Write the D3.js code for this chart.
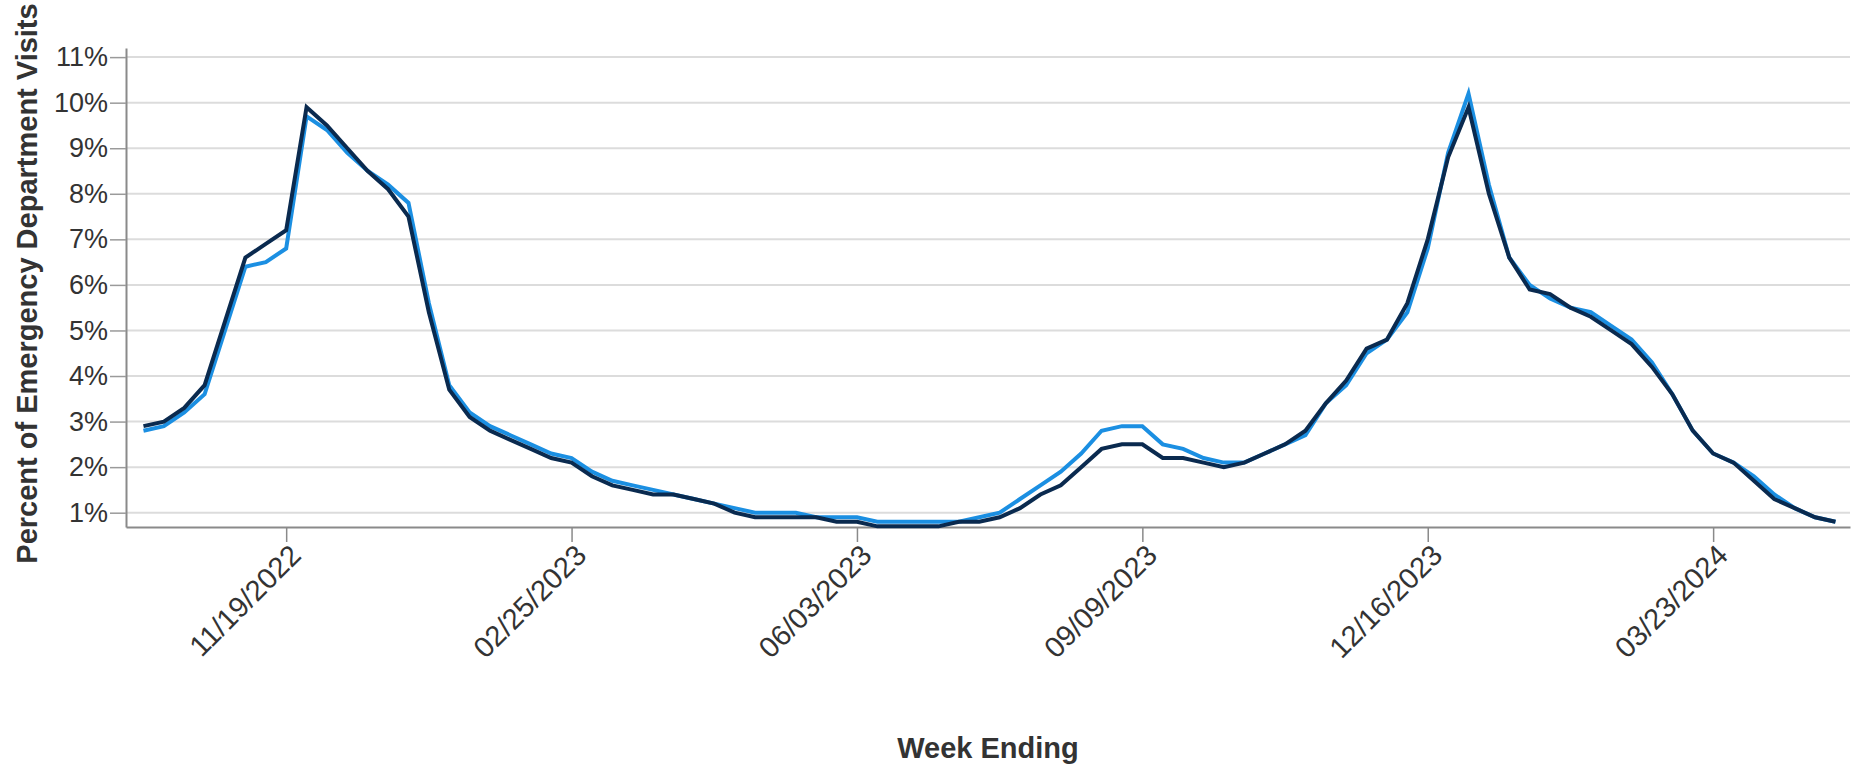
<!DOCTYPE html>
<html>
<head>
<meta charset="utf-8">
<script src="https://cdn.jsdelivr.net/npm/d3@7"></script>
<style>
  html, body { margin: 0; padding: 0; background: #fff; }
  text { font-family: 'Liberation Sans', Arial, Helvetica, sans-serif; }
</style>
</head>
<body>
<div id="chart"></div>
<script>
// week ending dates (Saturdays)
const weeks = [
  '2022-10-01', '2022-10-08', '2022-10-15', '2022-10-22', '2022-10-29', '2022-11-05', '2022-11-12',
  '2022-11-19', '2022-11-26', '2022-12-03', '2022-12-10', '2022-12-17', '2022-12-24', '2022-12-31',
  '2023-01-07', '2023-01-14', '2023-01-21', '2023-01-28', '2023-02-04', '2023-02-11', '2023-02-18',
  '2023-02-25', '2023-03-04', '2023-03-11', '2023-03-18', '2023-03-25', '2023-04-01', '2023-04-08',
  '2023-04-15', '2023-04-22', '2023-04-29', '2023-05-06', '2023-05-13', '2023-05-20', '2023-05-27',
  '2023-06-03', '2023-06-10', '2023-06-17', '2023-06-24', '2023-07-01', '2023-07-08', '2023-07-15',
  '2023-07-22', '2023-07-29', '2023-08-05', '2023-08-12', '2023-08-19', '2023-08-26', '2023-09-02',
  '2023-09-09', '2023-09-16', '2023-09-23', '2023-09-30', '2023-10-07', '2023-10-14', '2023-10-21',
  '2023-10-28', '2023-11-04', '2023-11-11', '2023-11-18', '2023-11-25', '2023-12-02', '2023-12-09',
  '2023-12-16', '2023-12-23', '2023-12-30', '2024-01-06', '2024-01-13', '2024-01-20', '2024-01-27',
  '2024-02-03', '2024-02-10', '2024-02-17', '2024-02-24', '2024-03-02', '2024-03-09', '2024-03-16',
  '2024-03-23', '2024-03-30', '2024-04-06', '2024-04-13', '2024-04-20', '2024-04-27', '2024-05-04'
]

// light blue series (%)
const seriesLight = [
  2.8, 2.9, 3.2, 3.6, 5.0, 6.4, 6.5, 6.8, 9.7, 9.4, 8.9, 8.5, 8.2, 7.8,
  5.6, 3.8, 3.2, 2.9, 2.7, 2.5, 2.3, 2.2, 1.9, 1.7, 1.6, 1.5, 1.4, 1.3,
  1.2, 1.1, 1.0, 1.0, 1.0, 0.9, 0.9, 0.9, 0.8, 0.8, 0.8, 0.8, 0.8, 0.9,
  1.0, 1.3, 1.6, 1.9, 2.3, 2.8, 2.9, 2.9, 2.5, 2.4, 2.2, 2.1, 2.1, 2.3,
  2.5, 2.7, 3.4, 3.8, 4.5, 4.8, 5.4, 6.8, 8.9, 10.2, 8.2, 6.6, 6.0, 5.7,
  5.5, 5.4, 5.1, 4.8, 4.3, 3.6, 2.8, 2.3, 2.1, 1.8, 1.4, 1.1, 0.9, 0.8
]

// dark navy series (%)
const seriesDark = [
  2.9, 3.0, 3.3, 3.8, 5.2, 6.6, 6.9, 7.2, 9.9, 9.5, 9.0, 8.5, 8.1, 7.5,
  5.4, 3.7, 3.1, 2.8, 2.6, 2.4, 2.2, 2.1, 1.8, 1.6, 1.5, 1.4, 1.4, 1.3,
  1.2, 1.0, 0.9, 0.9, 0.9, 0.9, 0.8, 0.8, 0.7, 0.7, 0.7, 0.7, 0.8, 0.8,
  0.9, 1.1, 1.4, 1.6, 2.0, 2.4, 2.5, 2.5, 2.2, 2.2, 2.1, 2.0, 2.1, 2.3,
  2.5, 2.8, 3.4, 3.9, 4.6, 4.8, 5.6, 7.0, 8.8, 9.9, 8.0, 6.6, 5.9, 5.8,
  5.5, 5.3, 5.0, 4.7, 4.2, 3.6, 2.8, 2.3, 2.1, 1.7, 1.3, 1.1, 0.9, 0.8
]

const tickWeeks = ['2022-11-19', '2023-02-25', '2023-06-03', '2023-09-09', '2023-12-16', '2024-03-23']
const yTicks = [1, 2, 3, 4, 5, 6, 7, 8, 9, 10, 11]

const width = 1852
const height = 769
const margin = { top: 48, right: 2, bottom: 242, left: 126 }
const textColor = '#333'

const parse = d3.utcParse('%Y-%m-%d')
const fmt = d3.utcFormat('%m/%d/%Y')
const dates = weeks.map(parse)

const xScale = d3.scaleUtc()
  .domain([d3.utcDay.offset(dates[0], -5.6), d3.utcDay.offset(dates[dates.length - 1], 5.8)])
  .range([margin.left, width - margin.right])

const yScale = d3.scaleLinear()
  .domain([0.686, 11.2])
  .range([height - margin.bottom, margin.top])

const svg = d3.select('#chart')
  .append('svg')
  .attr('width', width)
  .attr('height', height)
  .attr('viewBox', [0, 0, width, height])

// horizontal grid
svg.append('g')
  .attr('stroke', '#dcdcdc')
  .attr('stroke-width', 2)
  .selectAll('line')
  .data(yTicks)
  .join('line')
  .attr('x1', margin.left)
  .attr('x2', width - margin.right)
  .attr('y1', d => yScale(d))
  .attr('y2', d => yScale(d))

const yAxis = g => g
  .attr('transform', `translate(${margin.left},0)`)
  .call(d3.axisLeft(yScale).tickValues(yTicks).tickFormat(d => d + '%').tickSize(16).tickPadding(2).tickSizeOuter(0))
  .call(g => g.select('.domain').attr('stroke', '#8a8a8a').attr('stroke-width', 2))
  .call(g => g.selectAll('.tick line').attr('stroke', '#9a9a9a').attr('stroke-width', 1.5))
  .call(g => g.selectAll('.tick text')
    .attr('fill', textColor)
    .attr('font-size', 27))

const xAxis = g => g
  .attr('transform', `translate(0,${height - margin.bottom})`)
  .call(d3.axisBottom(xScale).tickValues(tickWeeks.map(parse)).tickFormat(fmt).tickSize(15).tickSizeOuter(0))
  .call(g => g.select('.domain').attr('stroke', '#8a8a8a').attr('stroke-width', 2))
  .call(g => g.selectAll('.tick line').attr('stroke', '#8a8a8a').attr('stroke-width', 1.5))
  .call(g => g.selectAll('.tick text')
    .attr('fill', textColor)
    .attr('font-size', 29)
    .attr('text-anchor', 'end')
    .attr('x', 0)
    .attr('y', 0)
    .attr('dy', 0)
    .attr('transform', 'translate(16,30) rotate(-45)'))

svg.append('g').call(yAxis)
svg.append('g').call(xAxis)

const line = values => d3.line()
  .x((d, i) => xScale(dates[i]))
  .y(d => yScale(d))(values)

svg.append('path')
  .attr('fill', 'none')
  .attr('stroke', '#1b8fe2')
  .attr('stroke-width', 4)
  .attr('d', line(seriesLight))

svg.append('path')
  .attr('fill', 'none')
  .attr('stroke', '#0a2a4f')
  .attr('stroke-width', 4)
  .attr('d', line(seriesDark))

// axis titles
svg.append('text')
  .attr('x', (margin.left + width - margin.right) / 2)
  .attr('y', 758)
  .attr('text-anchor', 'middle')
  .attr('font-size', 29)
  .attr('font-weight', 'bold')
  .attr('fill', textColor)
  .text('Week Ending')

svg.append('text')
  .attr('transform', `translate(37,${(margin.top + height - margin.bottom) / 2 - 4}) rotate(-90)`)
  .attr('text-anchor', 'middle')
  .attr('font-size', 29)
  .attr('font-weight', 'bold')
  .attr('fill', textColor)
  .text('Percent of Emergency Department Visits')
</script>
</body>
</html>
